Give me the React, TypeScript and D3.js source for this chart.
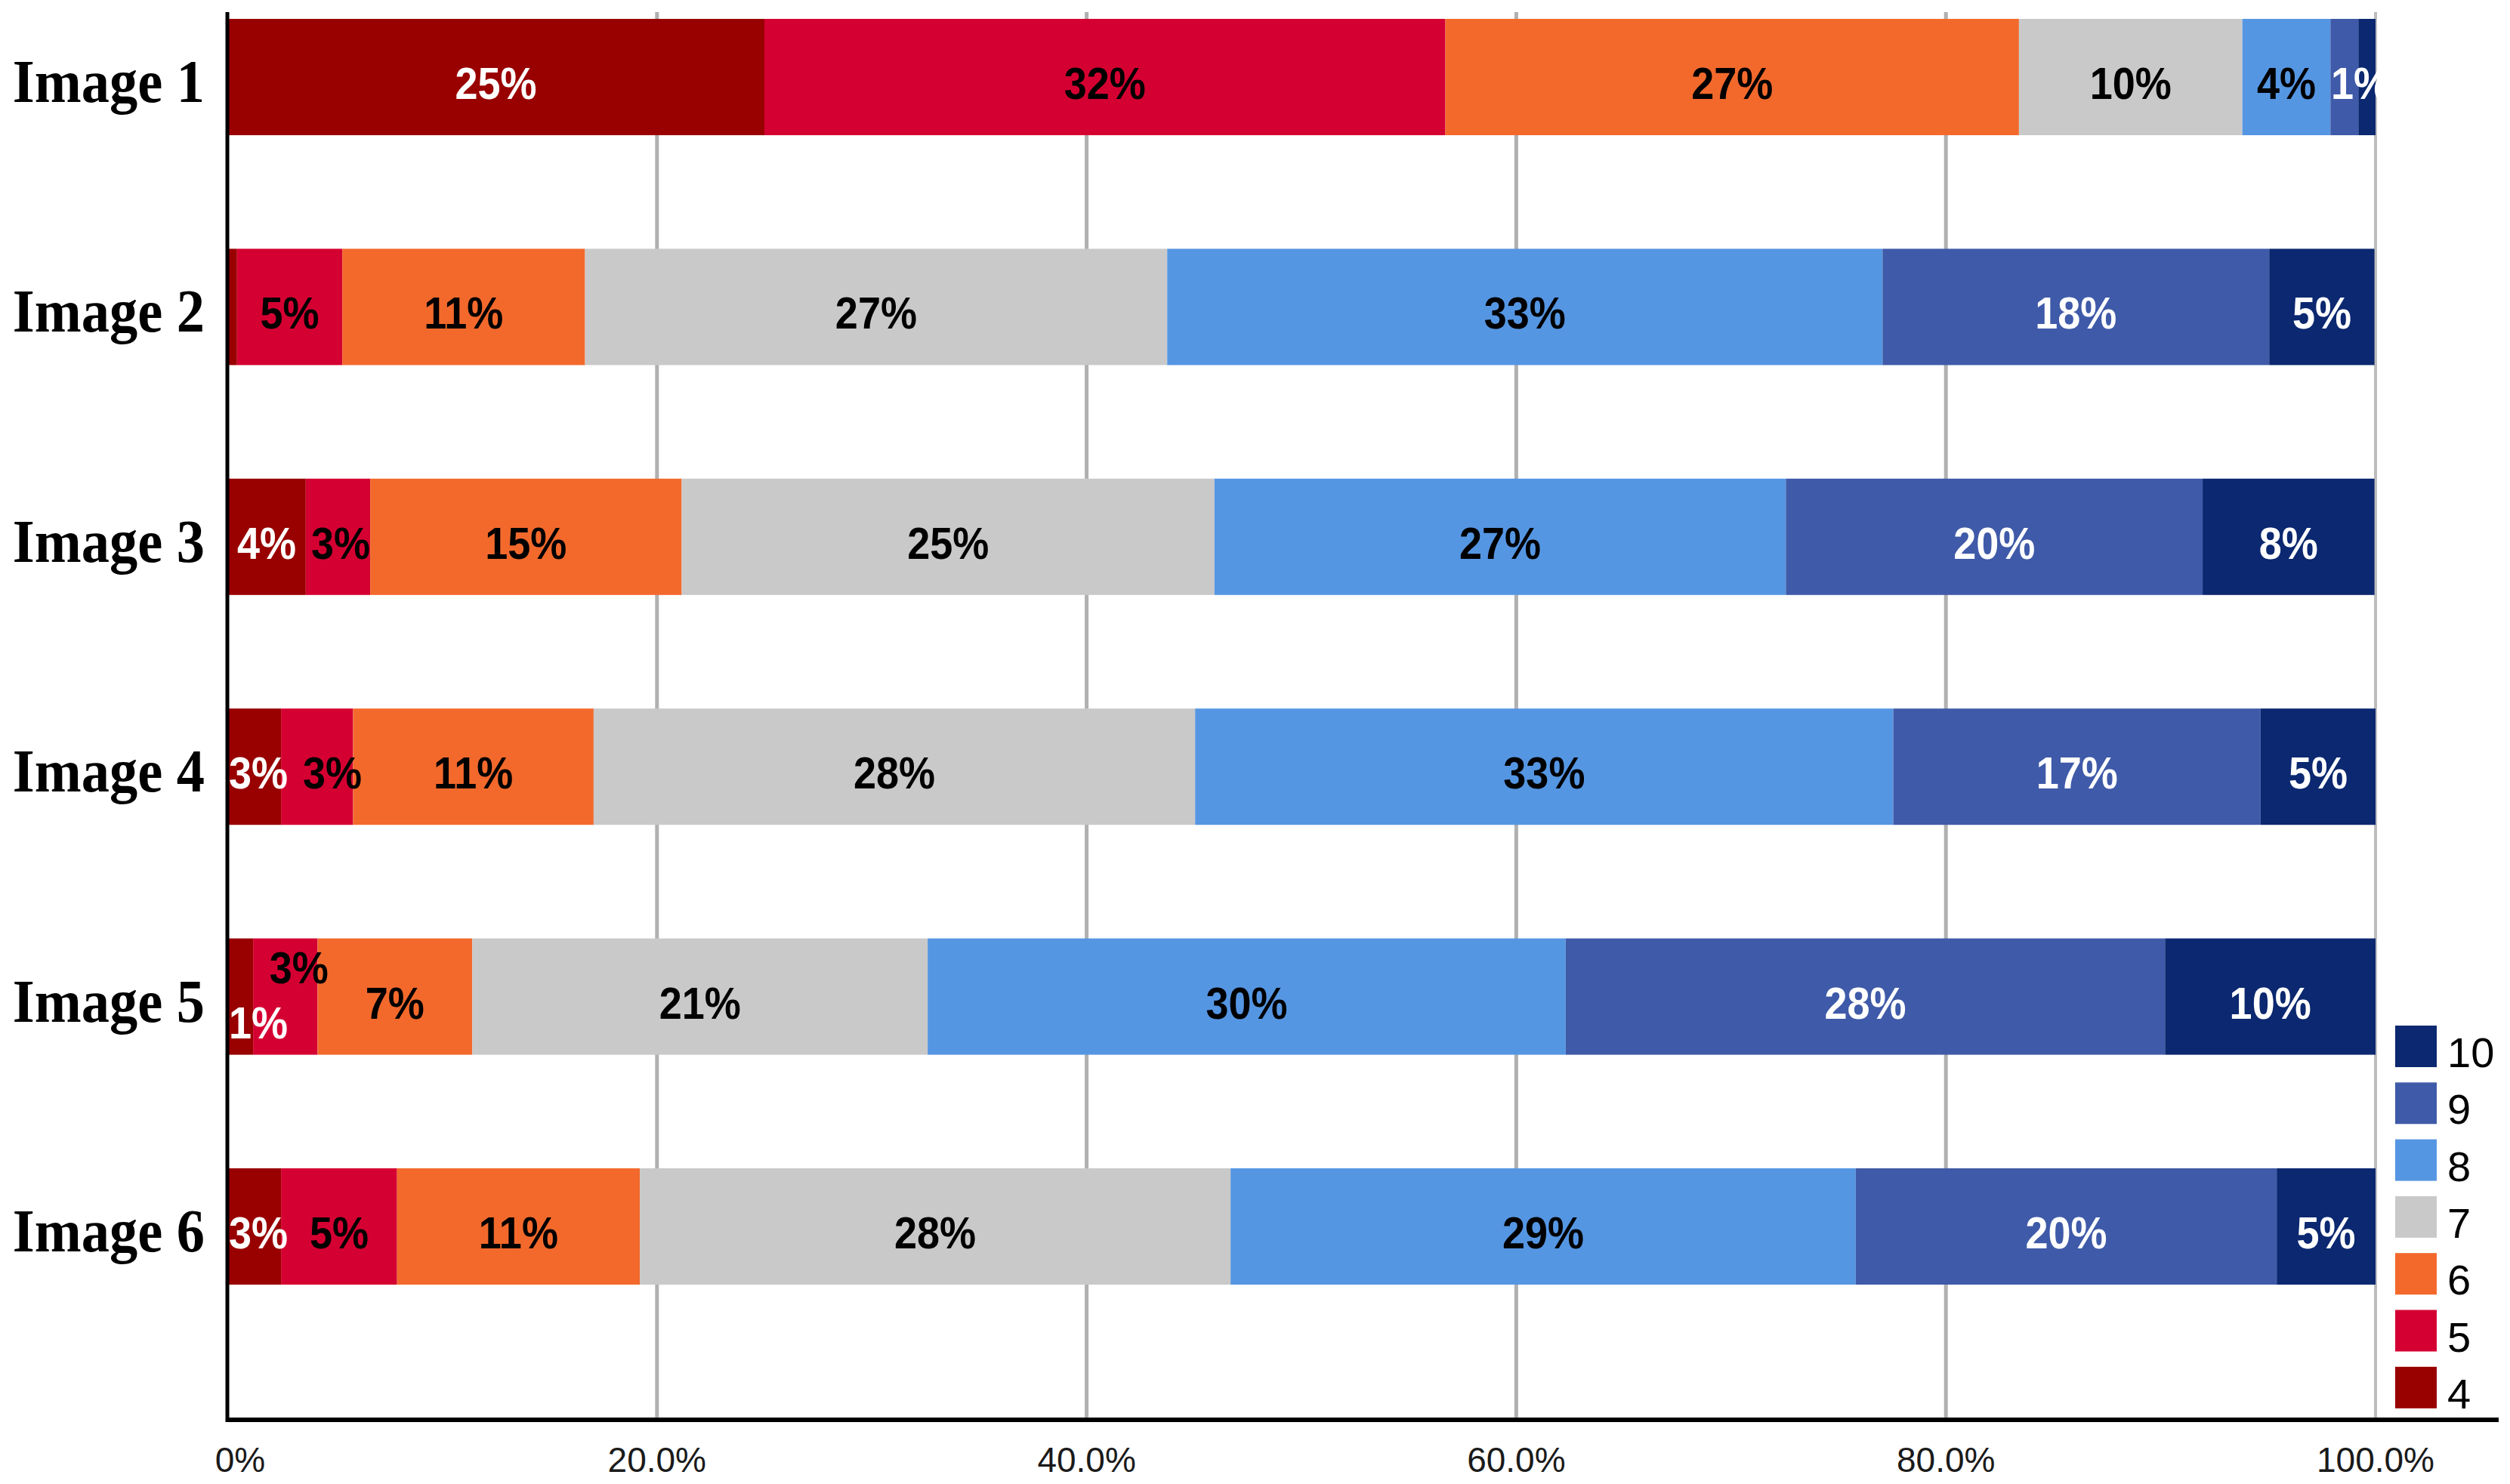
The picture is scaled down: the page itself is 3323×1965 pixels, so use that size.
import { useEffect, useRef } from "react";
import * as d3 from "d3";

const images = ["Image 1", "Image 2", "Image 3", "Image 4", "Image 5", "Image 6"];
const scoreKeys = ["4", "5", "6", "7", "8", "9", "10"];

// share of each score per image (percent)
const score4 = [25.0, 0.45, 3.65, 2.5, 1.2, 2.5];
const score5 = [31.7, 4.9, 3.0, 3.35, 3.0, 5.4];
const score6 = [26.7, 11.3, 14.5, 11.2, 7.2, 11.3];
const score7 = [10.4, 27.1, 24.8, 28.0, 21.2, 27.5];
const score8 = [4.1, 33.3, 26.6, 32.5, 29.7, 29.1];
const score9 = [1.3, 18.0, 19.4, 17.1, 27.9, 19.6];
const score10 = [0.8, 4.9, 8.0, 5.35, 9.8, 4.6];

// printed labels (empty = no label shown)
const label4 = ["25%", "", "4%", "3%", "1%", "3%"];
const label5 = ["32%", "5%", "3%", "3%", "3%", "5%"];
const label6 = ["27%", "11%", "15%", "11%", "7%", "11%"];
const label7 = ["10%", "27%", "25%", "28%", "21%", "28%"];
const label8 = ["4%", "33%", "27%", "33%", "30%", "29%"];
const label9 = ["", "18%", "20%", "17%", "28%", "20%"];
const label10 = ["1%", "5%", "8%", "5%", "10%", "5%"];

const scoreColors = ["#990000", "#D50032", "#F3692C", "#C9C9C9", "#5596E3", "#3F5AA8", "#0B2870"];
const whiteText = ["4", "9", "10"];
const xTicks = [0, 20, 40, 60, 80, 100];

const W = 3323;
const H = 1965;

export default function App() {
  const ref = useRef<SVGSVGElement | null>(null);

  useEffect(() => {
    if (!ref.current) return;
    const svg = d3.select(ref.current);
    svg.selectAll("*").remove();

    const series = [score4, score5, score6, score7, score8, score9, score10];
    const labels = [label4, label5, label6, label7, label8, label9, label10];

    const rows = images.map((name, i) => {
      const row: any = { name };
      scoreKeys.forEach((k, j) => (row[k] = series[j][i]));
      return row;
    });

    const stacked = d3.stack<any>().keys(scoreKeys)(rows);

    const x = d3.scaleLinear().domain([0, 100]).range([301, 3145]);
    const y = d3.scaleBand<string>().domain(images).range([25, 1701]).paddingInner(0.494).paddingOuter(0);
    const color = d3.scaleOrdinal<string, string>().domain(scoreKeys).range(scoreColors);

    const plotTop = 16;
    const axisY = 1880;

    svg.append("rect").attr("width", W).attr("height", H).attr("fill", "#fff");

    // vertical gridlines
    svg
      .append("g")
      .selectAll("line")
      .data(xTicks.filter((t) => t > 0))
      .enter()
      .append("line")
      .attr("x1", (d) => x(d))
      .attr("x2", (d) => x(d))
      .attr("y1", plotTop)
      .attr("y2", axisY)
      .attr("stroke", (d) => (d === 100 ? "#bdbdbd" : "#b0b0b0"))
      .attr("stroke-width", (d) => (d === 100 ? 4 : 5));

    // bars
    svg
      .append("g")
      .selectAll("g")
      .data(stacked)
      .enter()
      .append("g")
      .attr("fill", (s) => color(s.key))
      .selectAll("rect")
      .data((s) => s)
      .enter()
      .append("rect")
      .attr("x", (d) => x(d[0]))
      .attr("width", (d) => x(d[1]) - x(d[0]))
      .attr("y", (d) => y(d.data.name)!)
      .attr("height", y.bandwidth());

    // value labels, nudged when tiny segments make them collide
    const fs = 60;
    const sx = 0.9;
    const estWidth = (t: string) => ((t.length - 1) * 0.556 + 0.889) * fs * sx;
    const lblG = svg.append("g");
    images.forEach((name, i) => {
      const items: any[] = [];
      stacked.forEach((s, j) => {
        const text = labels[j][i];
        if (!text) return;
        const d = s[i];
        const w = estWidth(text);
        let cx = (x(d[0]) + x(d[1])) / 2;
        if (cx - w / 2 < x(0) + 2) cx = x(0) + 2 + w / 2;
        if (cx + w / 2 > x(100) + 2) cx = x(100) + 2 - w / 2;
        items.push({ text, key: s.key, cx, w, dy: 29 });
      });
      for (let k = 1; k < items.length; k++) {
        const p = items[k - 1];
        const c = items[k];
        const gap = c.cx - c.w / 2 - (p.cx + p.w / 2);
        if (gap < -15) {
          // stagger: previous drops, current rises
          p.dy = 55;
          c.dy = -18;
          c.cx += 18;
        } else if (gap < 20) {
          c.cx += 20 - gap;
        }
      }
      const cy = y(name)! + y.bandwidth() / 2;
      items.forEach((it) => {
        lblG
          .append("text")
          .attr("transform", `translate(${it.cx},${cy + it.dy}) scale(${sx},1)`)
          .attr("text-anchor", "middle")
          .style("font-family", "'Liberation Sans', Arial, sans-serif")
          .style("font-weight", 700)
          .style("font-size", `${fs}px`)
          .attr("fill", whiteText.includes(it.key) ? "#fff" : "#000")
          .text(it.text);
      });
    });

    // category labels
    svg
      .append("g")
      .selectAll("text")
      .data(images)
      .enter()
      .append("text")
      .attr("transform", (d) => `translate(271,${y(d)! + y.bandwidth() / 2 + 33}) scale(0.93,1)`)
      .attr("text-anchor", "end")
      .style("font-family", "'Liberation Serif', 'Times New Roman', serif")
      .style("font-weight", 700)
      .style("font-size", "80px")
      .attr("fill", "#000")
      .text((d) => d);

    // axis lines
    svg
      .append("line")
      .attr("x1", 301)
      .attr("x2", 301)
      .attr("y1", plotTop)
      .attr("y2", axisY + 3)
      .attr("stroke", "#000")
      .attr("stroke-width", 5);
    svg
      .append("line")
      .attr("x1", 299)
      .attr("x2", 3308)
      .attr("y1", axisY)
      .attr("y2", axisY)
      .attr("stroke", "#000")
      .attr("stroke-width", 6);

    // x tick labels
    svg
      .append("g")
      .selectAll("text")
      .data(xTicks)
      .enter()
      .append("text")
      .attr("x", (d) => x(d) + (d === 0 ? 17 : 0))
      .attr("y", 1949)
      .attr("text-anchor", "middle")
      .style("font-family", "'Liberation Sans', Arial, sans-serif")
      .style("font-size", "46px")
      .attr("fill", "#1a1a1a")
      .text((d) => (d === 0 ? "0%" : `${d.toFixed(1)}%`));

    // legend
    const legendKeys = scoreKeys.slice().reverse();
    const lg = svg
      .append("g")
      .selectAll("g")
      .data(legendKeys)
      .enter()
      .append("g")
      .attr("transform", (_, i) => `translate(3171,${1358 + i * 75.3})`);
    lg.append("rect").attr("width", 55).attr("height", 55).attr("fill", (d) => color(d));
    lg.append("text")
      .attr("x", 69)
      .attr("y", 55)
      .style("font-family", "'Liberation Sans', Arial, sans-serif")
      .style("font-size", "56px")
      .attr("fill", "#000")
      .text((d) => d);
  }, []);

  return (
    <svg
      ref={ref}
      width={W}
      height={H}
      style={{ position: "absolute", left: 0, top: 0, display: "block", background: "#fff" }}
    />
  );
}
